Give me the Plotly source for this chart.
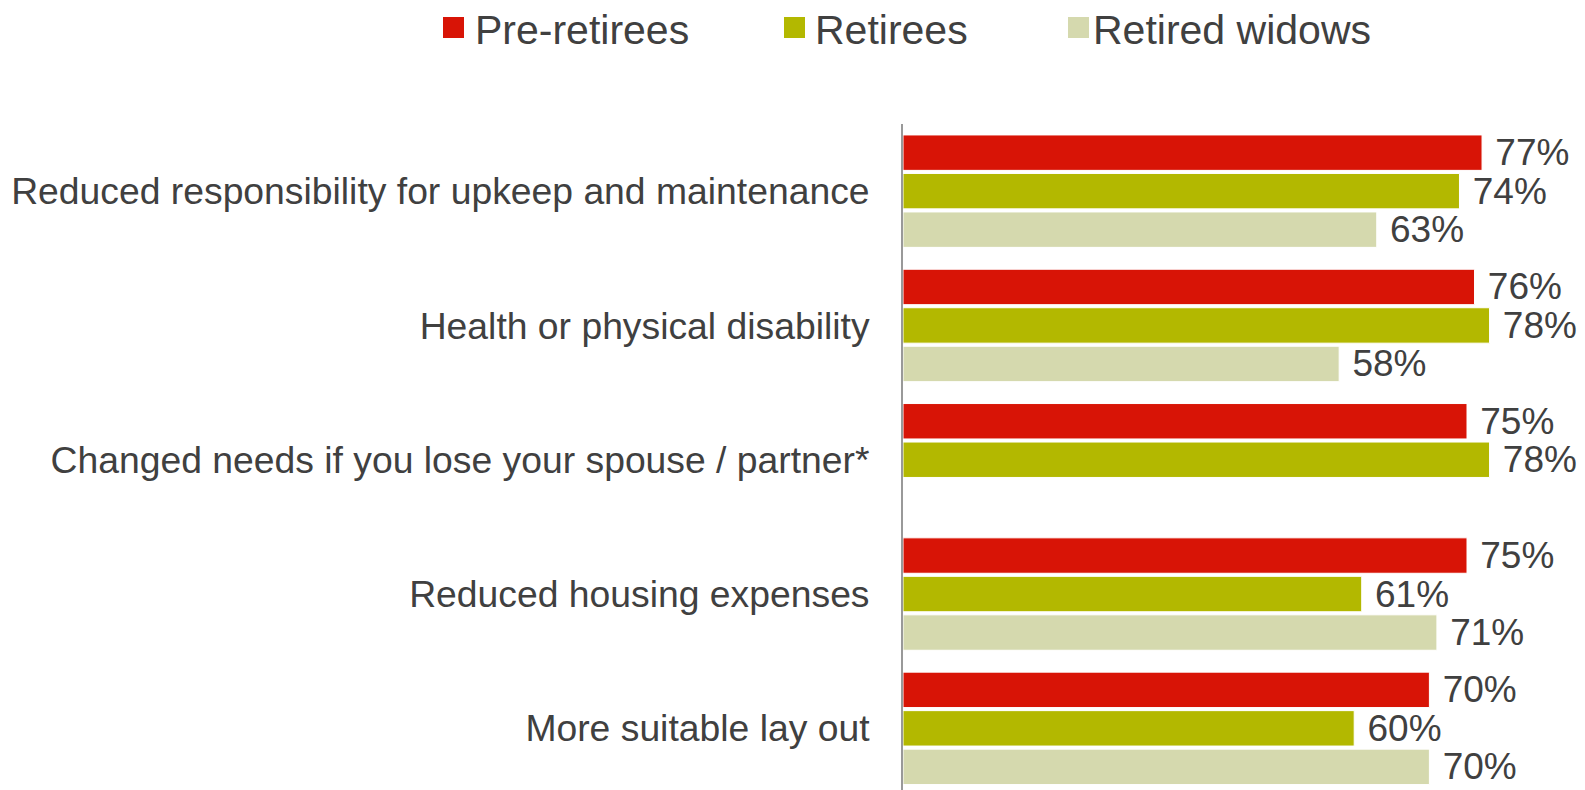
import plotly.graph_objects as go

categories = [
    "Reduced responsibility for upkeep and maintenance",
    "Health or physical disability",
    "Changed needs if you lose your spouse / partner*",
    "Reduced housing expenses",
    "More suitable lay out",
]
series_names = ["Pre-retirees", "Retirees", "Retired widows"]
pre_retirees = [77, 76, 75, 75, 70]
retirees = [74, 78, 78, 61, 60]
retired_widows = [63, 58, None, 71, 70]

colors = ["#D81406", "#B3B800", "#D5D9AE"]
text_color = "#404040"
font_family = "Liberation Sans, Arial, sans-serif"

# figure geometry (pixels); page body adds an 8px offset
W, H = 1585, 790
left, top = 895, 116
px_per_pct = 7.52
px_per_cat = 134.3

fig = go.Figure()
for name, vals, col in zip(series_names, [pre_retirees, retirees, retired_widows], colors):
    fig.add_trace(go.Bar(
        y=categories,
        x=vals,
        name=name,
        orientation="h",
        marker=dict(color=col, line=dict(color="white", width=1)),
        text=[f" {v}%" if v is not None else "" for v in vals],
        textposition="outside",
        constraintext="none",
        textfont=dict(size=37, color=text_color, family=font_family),
        cliponaxis=False,
        showlegend=False,
    ))

# custom legend (bigger square symbols than plotly draws for bars)
legend_items = [(435, 465), (776, 805), (1060, 1083)]
plot_h = H - top
for (sq_x, tx_x), name, col in zip(legend_items, series_names, colors):
    fig.add_shape(type="rect", xref="paper", yref="paper",
                  x0=(sq_x - left) / (W - left), x1=(sq_x + 21 - left) / (W - left),
                  y0=(H - 30) / plot_h, y1=(H - 9) / plot_h,
                  fillcolor=col, line=dict(width=0), layer="above")
    fig.add_annotation(xref="paper", yref="paper",
                       x=(tx_x - left) / (W - left), y=(H - 22) / plot_h,
                       text=name, showarrow=False, xanchor="left", yanchor="middle",
                       font=dict(size=41, color=text_color, family=font_family))

fig.update_layout(
    width=W, height=H,
    margin=dict(l=left, r=0, t=top, b=0),
    barmode="group",
    bargap=0.14,
    bargroupgap=0.08,
    plot_bgcolor="white",
    paper_bgcolor="white",
    font=dict(family=font_family, color=text_color),
)
fig.update_xaxes(range=[0, (W - left) / px_per_pct], visible=False, showgrid=False)
fig.update_yaxes(
    range=[plot_h / px_per_cat - 0.5, -0.5],
    showgrid=False,
    showline=True, linecolor="#999999", linewidth=2,
    ticks="",
    ticklabelstandoff=24,
    tickfont=dict(size=37.3, color=text_color, family=font_family),
)

fig.write_html("out.html")
